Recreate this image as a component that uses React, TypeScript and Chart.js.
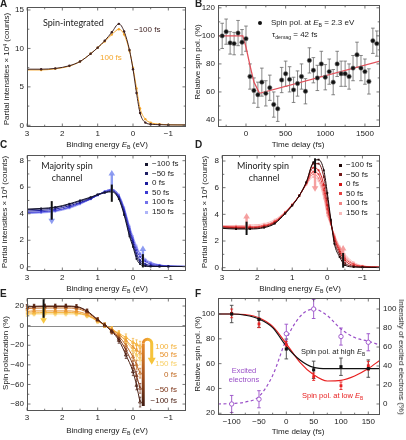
import React, { useEffect, useRef } from 'react';
import { Chart, registerables } from 'chart.js';

Chart.register(...registerables);

const W = 406;
const H = 440;
const SANS = "'Liberation Sans', Arial, Helvetica, sans-serif";
const HUM = "Lato, 'Open Sans', sans-serif";

// ---------------- shared ----------------
const BE_TICKS = [3, 2, 1, 0, -1];
const BE_MINOR = [2.5, 1.5, 0.5, -0.5];
const DELAY_LABELS = ['\u2212100 fs', '\u221250 fs', '0 fs', '50 fs', '100 fs', '150 fs'];
const BE_GRID = [3.0, 2.6, 2.2, 1.8, 1.5, 1.2, 1.0, 0.8, 0.6, 0.4, 0.25, 0.1, 0.0, -0.1, -0.2, -0.35, -0.5, -0.75, -1.0, -1.5];

// ---------------- A: spin-integrated ----------------
const A_M100 = [7.3, 7.3, 7.4, 7.75, 8.3, 9.3, 10.1, 11.0, 12.1, 13.2, 12.2, 9.8, 7.3, 4.2, 1.6, 0.35, 0.15, 0.08, 0.05, 0.05];
const A_P100 = [7.2, 7.2, 7.35, 7.7, 8.3, 9.3, 10.1, 10.9, 11.8, 12.5, 11.8, 9.7, 7.5, 4.8, 2.2, 0.8, 0.35, 0.15, 0.08, 0.05];
const A_COLORS = ['#3f2222', '#f4a62c'];
const A_YTICKS = [0, 5, 10, 15];

// ---------------- B: spin polarization vs delay ----------------
const B_DELAY = [-300, -250, -200, -150, -100, -50, 0, 50, 100, 150, 200, 250, 300, 350, 400, 450, 500, 550, 600, 650, 700, 750, 800, 850, 900, 950, 1000, 1050, 1100, 1150, 1200, 1250, 1300, 1350, 1400, 1450, 1500, 1550, 1600, 1650];
const B_POL = [100, 103, 95, 94.5, 102, 95.5, 98, 71, 61, 58, 67, 59, 63, 51, 48, 68.5, 73, 69, 61.5, 66, 71, 60.5, 82.5, 75.5, 70, 80, 70.5, 74.5, 67, 80, 73, 73, 71, 77, 86.5, 77, 74.5, 67.5, 96.5, 94.5];
const B_ERR = [9, 9, 8, 8, 9, 9, 9, 9, 9, 9, 10, 9, 9, 9, 9, 9, 9, 9, 9, 9, 9, 9, 9, 9, 9, 9, 9, 9, 9, 9, 9, 9, 9, 9, 9, 9, 9, 9, 9, 9];
const B_FIT_T = [-353, -40, 0, 50, 100, 170, 1690];
const B_FIT_P = [100, 100, 92, 79, 67, 59, 82];
const B_XTICKS = [0, 500, 1000, 1500];
const B_YTICKS = [40, 60, 80, 100, 120];

// ---------------- C: majority ----------------
const C_M100 = [4.35, 4.4, 4.5, 4.75, 5.0, 5.25, 5.45, 5.6, 5.65, 5.1, 3.9, 2.3, 1.5, 0.6, 0.2, 0.05, 0.02, 0.02, 0.02, 0.02];
const C_M50 = [4.3, 4.35, 4.45, 4.7, 4.95, 5.2, 5.45, 5.6, 5.7, 5.15, 4.0, 2.45, 1.65, 0.8, 0.35, 0.1, 0.04, 0.02, 0.02, 0.02];
const C_0 = [4.2, 4.25, 4.35, 4.6, 4.85, 5.15, 5.4, 5.6, 5.75, 5.25, 4.15, 2.65, 1.85, 1.0, 0.5, 0.2, 0.1, 0.05, 0.03, 0.02];
const C_50 = [4.1, 4.15, 4.25, 4.5, 4.8, 5.1, 5.4, 5.65, 5.8, 5.3, 4.3, 2.85, 2.0, 1.25, 0.75, 0.4, 0.2, 0.1, 0.05, 0.03];
const C_100 = [4.05, 4.1, 4.2, 4.45, 4.75, 5.1, 5.4, 5.7, 5.85, 5.4, 4.4, 3.0, 2.15, 1.45, 0.95, 0.5, 0.3, 0.13, 0.06, 0.03];
const C_150 = [4.0, 4.05, 4.15, 4.4, 4.7, 5.1, 5.4, 5.7, 5.85, 5.45, 4.5, 3.1, 2.3, 1.6, 1.05, 0.6, 0.35, 0.15, 0.07, 0.03];
const C_COLORS = ['#15152e', '#1e1e62', '#1c1c9c', '#3b3bd2', '#7272ea', '#aeb4f8'];
const C_MARK_E = [2.3, 0.6, -0.28];
const C_BAR_LO = [3.55, 4.9, -0.05];
const C_BAR_HI = [4.95, 6.2, 0.95];
const C_ARR_FROM = [4.4, 5.6, 0.1];
const C_ARR_TO = [3.2, 7.3, 1.6];
const CD_YTICKS = [0, 2, 4, 6, 8];

// ---------------- D: minority ----------------
const D_M100 = [2.95, 2.9, 2.9, 3.0, 3.3, 4.05, 4.65, 5.4, 6.4, 7.9, 8.1, 7.3, 5.6, 3.6, 1.8, 0.8, 0.2, 0.05, 0.03, 0.02];
const D_M50 = [3.0, 2.95, 2.95, 3.05, 3.35, 4.1, 4.7, 5.4, 6.4, 7.8, 7.8, 6.8, 5.2, 3.5, 2.0, 1.0, 0.35, 0.1, 0.05, 0.02];
const D_0 = [3.05, 3.0, 3.0, 3.1, 3.4, 4.1, 4.7, 5.4, 6.35, 7.5, 7.3, 6.2, 4.7, 3.4, 2.2, 1.2, 0.55, 0.15, 0.07, 0.03];
const D_50 = [3.1, 3.05, 3.05, 3.15, 3.45, 4.15, 4.7, 5.4, 6.3, 7.2, 7.0, 5.8, 4.4, 3.3, 2.3, 1.35, 0.7, 0.25, 0.1, 0.04];
const D_100 = [3.1, 3.1, 3.1, 3.2, 3.5, 4.15, 4.75, 5.4, 6.25, 7.0, 6.7, 5.5, 4.1, 3.25, 2.4, 1.5, 0.85, 0.3, 0.12, 0.05];
const D_150 = [3.15, 3.15, 3.2, 3.3, 3.6, 4.2, 4.75, 5.4, 6.2, 6.8, 6.5, 5.2, 3.9, 3.2, 2.5, 1.6, 1.0, 0.4, 0.15, 0.05];
const D_COLORS = ['#1e0808', '#721818', '#d21818', '#e64040', '#f08282', '#f8baba'];
const D_MARK_E = [2.3, 0.35, -0.45];
const D_BAR_LO = [2.45, 7.1, 0.0];
const D_BAR_HI = [3.45, 8.2, 1.1];
const D_ARR_FROM = [2.9, 7.8, 0.2];
const D_ARR_TO = [4.1, 5.7, 1.7];

// ---------------- E: spin polarization ----------------
const E_GRID = [3.0, 2.8, 2.5, 2.2, 1.9, 1.6, 1.3, 1.0, 0.8, 0.6, 0.4, 0.2, 0.0, -0.1, -0.2];
const E_M100 = [19.5, 19.8, 20, 20, 20, 19.5, 15, 6, 0.5, -6, -15, -30, -47, -61, -78];
const E_M50 = [19, 19.3, 19.5, 19.5, 19.5, 19, 14.5, 6, 0.5, -5.5, -13, -25, -40, -51, -64];
const E_0 = [17.5, 17.8, 18, 18, 18, 17.5, 13.5, 5.5, 0.5, -5, -11, -20, -32, -40, -48.5];
const E_50 = [14.5, 15, 15, 15, 15, 14.5, 11.5, 5, 0.5, -4, -9, -15, -22, -25, -28];
const E_100 = [13, 13, 13.5, 13.5, 13.5, 13, 10.5, 5, 0.5, -3.5, -8, -12, -17, -19, -21];
const E_150 = [11.5, 12, 12, 12, 12, 12, 10, 4.5, 0.5, -4, -9, -16, -25, -30, -35];
const E_ERR = [2, 2, 2, 2, 2, 2, 2, 2, 2, 2.5, 3, 3.5, 4, 4.5, 5];
const E_COLORS = ['#4a1e12', '#7c3418', '#c06a22', '#e8922c', '#f4b23a', '#f8d068'];
const E_YTICKS = [-80, -60, -40, -20, 0, 20];

// ---------------- F: comparison ----------------
const F_DELAY = [-100, -50, 0, 50, 100, 150];
const F_HIGH = [100, 95.7, 71.8, 55, 57.5, 56];
const F_HIGH_ERR = [7, 6.5, 8, 7, 7, 7];
const F_LOW = [100.5, 92, 75, 49.5, 42.2, 58.3];
const F_LOW_ERR = [3.5, 3, 3, 3, 3, 3.5];
const F_EXC = [0, 5, 74, 100, 71, 65];
const F_EXC_ERR = [9, 9, 10, 10, 9, 9];
const F_CURVE_T = [-125, -100, -75, -50, -25, 0, 25, 50, 75, 100, 125, 150, 172];
const F_HIGH_FIT = [100, 100, 99, 96, 89, 74, 63, 57, 56, 56, 56, 56, 56];
const F_LOW_FIT = [100, 100, 99.5, 97, 90, 76, 61, 51, 46, 46.5, 50, 56, 63];
const F_EXC_FIT = [0, 0.5, 2, 8, 30, 68, 92, 100, 93, 79, 70, 66, 62];
const F_XTICKS = [-100, -50, 0, 50, 100, 150];
const F_YTICKS = [20, 40, 60, 80, 100];
const F_Y2TICKS = [0, 20, 40, 60, 80, 100];
const F_BLACK = '#111111';
const F_RED = '#e82020';
const F_PURPLE = '#9a4fc8';

// ---------------- helpers ----------------
const YW = 24;
const XH = 14;

function fmt(v: number) {
  return String(v).replace('-', '\u2212');
}

function axis(spec: any, position: string, isX: boolean, size: number) {
  return {
    type: 'linear',
    position,
    min: spec.min,
    max: spec.max,
    reverse: !!spec.reverse,
    grid: { display: false, drawTicks: false },
    border: { display: false },
    ticks: {
      autoSkip: false,
      maxRotation: 0,
      padding: isX ? 2 : 3,
      color: '#222',
      font: { family: SANS, size: 8 },
      callback: (v: number) => fmt(v),
    },
    afterBuildTicks: (s: any) => {
      s.ticks = spec.ticks.map((v: number) => ({ value: v }));
    },
    afterFit: (s: any) => {
      if (isX) s.height = size;
      else s.width = size;
      s.paddingLeft = 0;
      s.paddingRight = 0;
      s.paddingTop = 0;
      s.paddingBottom = 0;
    },
  };
}

function opts(area: any, x: any, y: any, y2?: any) {
  const scales: any = { x: axis(x, 'bottom', true, XH), y: axis(y, 'left', false, YW) };
  if (y2) scales.y2 = axis(y2, 'right', false, YW);
  return {
    responsive: false,
    maintainAspectRatio: false,
    animation: false,
    devicePixelRatio: 1,
    events: [],
    layout: {
      padding: {
        left: area.l - YW,
        top: area.t,
        right: W - area.r - (y2 ? YW : 0),
        bottom: H - area.b - XH,
      },
    },
    plugins: { legend: { display: false }, tooltip: { enabled: false } },
    scales,
  };
}

function ser(xs: number[], ys: number[], color: string, extra: any = {}) {
  return {
    data: xs.map((x, i) => ({ x, y: ys[i] })),
    showLine: true,
    borderColor: color,
    backgroundColor: color,
    borderWidth: 1,
    pointRadius: 1.3,
    pointHoverRadius: 0,
    pointBorderWidth: 0,
    pointBackgroundColor: color,
    cubicInterpolationMode: 'monotone',
    ...extra,
  };
}

function drawArrow(ctx: any, X: number, Y0: number, Y1: number, color: string, lw: number, hl = 5.5, hw = 3.3) {
  const dir = Math.sign(Y1 - Y0) || 1;
  ctx.strokeStyle = color;
  ctx.fillStyle = color;
  ctx.lineWidth = lw;
  ctx.beginPath();
  ctx.moveTo(X, Y0);
  ctx.lineTo(X, Y1 - dir * hl * 0.8);
  ctx.stroke();
  ctx.beginPath();
  ctx.moveTo(X, Y1);
  ctx.lineTo(X - hw, Y1 - dir * hl);
  ctx.lineTo(X + hw, Y1 - dir * hl);
  ctx.closePath();
  ctx.fill();
}

function extras(ex: any) {
  return {
    id: 'extras',
    beforeDatasetsDraw(chart: any) {
      const ctx = chart.ctx;
      const a = chart.chartArea;
      const xs = chart.scales.x;
      const ys = chart.scales.y;
      ctx.save();
      if (ex.hline !== undefined) {
        const Y = Math.round(ys.getPixelForValue(ex.hline)) + 0.5;
        ctx.strokeStyle = '#8a8a8a';
        ctx.lineWidth = 1;
        ctx.beginPath();
        ctx.moveTo(a.left, Y);
        ctx.lineTo(a.right, Y);
        ctx.stroke();
      }
      for (const e of ex.err || []) {
        const sy = chart.scales[e.axis || 'y'];
        ctx.strokeStyle = e.color;
        ctx.lineWidth = e.lw;
        e.x.forEach((xv: number, i: number) => {
          const X = xs.getPixelForValue(xv);
          const lo = sy.getPixelForValue(e.y[i] - e.e[i]);
          const hi = sy.getPixelForValue(e.y[i] + e.e[i]);
          ctx.beginPath();
          ctx.moveTo(X, lo);
          ctx.lineTo(X, hi);
          ctx.moveTo(X - e.cap, lo);
          ctx.lineTo(X + e.cap, lo);
          ctx.moveTo(X - e.cap, hi);
          ctx.lineTo(X + e.cap, hi);
          ctx.stroke();
        });
      }
      ctx.restore();
    },
    afterDatasetsDraw(chart: any) {
      const ctx = chart.ctx;
      const a = chart.chartArea;
      const xs = chart.scales.x;
      const ys = chart.scales.y;
      ctx.save();
      if (ex.arrows) {
        const r = ex.arrows;
        r.x.forEach((xv: number, i: number) => {
          drawArrow(ctx, xs.getPixelForValue(xv), ys.getPixelForValue(r.from[i]), ys.getPixelForValue(r.to[i]), r.color, r.lw);
        });
      }
      if (ex.bars) {
        const b = ex.bars;
        ctx.strokeStyle = b.color;
        ctx.lineWidth = b.lw;
        b.x.forEach((xv: number, i: number) => {
          const X = xs.getPixelForValue(xv);
          ctx.beginPath();
          ctx.moveTo(X, ys.getPixelForValue(b.lo[i]));
          ctx.lineTo(X, ys.getPixelForValue(b.hi[i]));
          ctx.stroke();
        });
      }
      if (ex.big) {
        const b = ex.big;
        const X0 = xs.getPixelForValue(b.x0);
        const X1 = xs.getPixelForValue(b.x1);
        const rr = Math.abs(X1 - X0) / 2;
        const cx = (X0 + X1) / 2;
        const YB = ys.getPixelForValue(b.yb);
        const YT = ys.getPixelForValue(b.yt);
        const YE = ys.getPixelForValue(b.ye);
        const cy = YT + rr;
        ctx.lineWidth = 3;
        const g1 = ctx.createLinearGradient(0, YB, 0, cy);
        g1.addColorStop(0, '#3e1a10');
        g1.addColorStop(0.45, '#a04d1c');
        g1.addColorStop(1, '#e88a2a');
        ctx.strokeStyle = g1;
        ctx.beginPath();
        ctx.moveTo(X0, YB);
        ctx.lineTo(X0, cy);
        ctx.stroke();
        const g2 = ctx.createLinearGradient(X0, 0, X1, 0);
        g2.addColorStop(0, '#e88a2a');
        g2.addColorStop(1, '#f6c43a');
        ctx.strokeStyle = g2;
        ctx.beginPath();
        ctx.arc(cx, cy, rr, Math.PI, 2 * Math.PI);
        ctx.lineTo(X1, YE - 5);
        ctx.stroke();
        ctx.fillStyle = '#f6c43a';
        ctx.beginPath();
        ctx.moveTo(X1, YE);
        ctx.lineTo(X1 - 4, YE - 7);
        ctx.lineTo(X1 + 4, YE - 7);
        ctx.closePath();
        ctx.fill();
      }
      // frame
      const L = Math.round(a.left) + 0.5;
      const T = Math.round(a.top) + 0.5;
      const R = Math.round(a.right) - 0.5;
      const B = Math.round(a.bottom) - 0.5;
      ctx.strokeStyle = '#555';
      ctx.lineWidth = 1;
      ctx.strokeRect(L, T, R - L, B - T);
      ctx.lineWidth = 0.8;
      const tick = (vals: number[], len: number) => {
        for (const v of vals) {
          const X = xs.getPixelForValue(v);
          ctx.beginPath();
          ctx.moveTo(X, B);
          ctx.lineTo(X, B - len);
          ctx.moveTo(X, T);
          ctx.lineTo(X, T + len);
          ctx.stroke();
        }
      };
      tick(ex.xT || [], 3);
      tick(ex.xM || [], 1.8);
      const ytick = (vals: number[], len: number, sc: any, left: boolean, right: boolean) => {
        for (const v of vals) {
          const Y = sc.getPixelForValue(v);
          ctx.beginPath();
          if (left) {
            ctx.moveTo(L, Y);
            ctx.lineTo(L + len, Y);
          }
          if (right) {
            ctx.moveTo(R, Y);
            ctx.lineTo(R - len, Y);
          }
          ctx.stroke();
        }
      };
      const hasY2 = !!ex.y2T;
      ytick(ex.yT || [], 3, ys, true, !hasY2);
      ytick(ex.yM || [], 1.8, ys, true, !hasY2);
      if (hasY2) ytick(ex.y2T, 3, chart.scales.y2, false, true);
      ctx.restore();
    },
  };
}

// ---------------- panel builders ----------------
const BE_X = { min: -1.5, max: 3, reverse: true, ticks: BE_TICKS };

function buildA() {
  const area = { l: 27, t: 7, r: 186, b: 127 };
  return {
    type: 'scatter',
    data: {
      datasets: [
        ser(BE_GRID, A_M100, A_COLORS[0], { pointRadius: 1.2 }),
        ser(BE_GRID, A_P100, A_COLORS[1], { pointRadius: 1.2 }),
      ],
    },
    options: opts(area, BE_X, { min: -0.22, max: 15.39, ticks: A_YTICKS }),
    plugins: [extras({ xT: BE_TICKS, xM: BE_MINOR, yT: A_YTICKS, yM: [2.5, 7.5, 12.5] })],
  };
}

function buildB() {
  const area = { l: 218, t: 4, r: 380, b: 127 };
  return {
    type: 'scatter',
    data: {
      datasets: [
        {
          data: B_DELAY.map((x, i) => ({ x, y: B_POL[i] })),
          pointRadius: 2.2,
          pointBorderWidth: 0.6,
          pointBorderColor: '#777',
          pointBackgroundColor: '#111',
          showLine: false,
        },
        ser(B_FIT_T, B_FIT_P, '#e2525c', { pointRadius: 0, borderWidth: 1.3, cubicInterpolationMode: 'default', tension: 0 }),
      ],
    },
    options: opts(area, { min: -353, max: 1690, ticks: B_XTICKS }, { min: 35, max: 122.3, ticks: B_YTICKS }),
    plugins: [
      extras({
        xT: B_XTICKS,
        xM: [-250, 250, 750, 1250],
        yT: B_YTICKS,
        yM: [50, 70, 90, 110],
        err: [{ x: B_DELAY, y: B_POL, e: B_ERR, color: '#6a6a6a', lw: 0.8, cap: 1.8 }],
      }),
    ],
  };
}

function buildSpin(area: any, series: number[][], colors: string[], ymin: number, ymax: number, marks: any) {
  const ds = series.map((s, i) => ser(BE_GRID, s, colors[i], { pointStyle: 'rect', pointRadius: 1.3 }));
  return {
    type: 'scatter',
    data: { datasets: ds },
    options: opts(area, BE_X, { min: ymin, max: ymax, ticks: CD_YTICKS }),
    plugins: [
      extras({
        xT: BE_TICKS,
        xM: BE_MINOR,
        yT: CD_YTICKS,
        yM: [1, 3, 5, 7],
        arrows: { x: marks.x, from: marks.from, to: marks.to, color: marks.arrowColor, lw: 2.4 },
        bars: { x: marks.x, lo: marks.lo, hi: marks.hi, color: '#111', lw: 2 },
      }),
    ],
  };
}

function buildC() {
  return buildSpin({ l: 27, t: 155, r: 186, b: 271 }, [C_M100, C_M50, C_0, C_50, C_100, C_150], C_COLORS, -0.32, 8.43, {
    x: C_MARK_E, lo: C_BAR_LO, hi: C_BAR_HI, from: C_ARR_FROM, to: C_ARR_TO, arrowColor: 'rgba(130,145,240,0.9)',
  });
}

function buildD() {
  return buildSpin({ l: 222, t: 155, r: 380, b: 271 }, [D_M100, D_M50, D_0, D_50, D_100, D_150], D_COLORS, -0.25, 8.45, {
    x: D_MARK_E, lo: D_BAR_LO, hi: D_BAR_HI, from: D_ARR_FROM, to: D_ARR_TO, arrowColor: 'rgba(244,150,150,0.9)',
  });
}

function buildE() {
  const area = { l: 27, t: 298, r: 186, b: 411 };
  const series = [E_M100, E_M50, E_0, E_50, E_100, E_150];
  const ds = series.map((s, i) =>
    ser(E_GRID, s, E_COLORS[i], { pointStyle: 'triangle', pointRadius: 1.8, pointBorderWidth: 0.8, pointBorderColor: E_COLORS[i], pointBackgroundColor: 'rgba(255,255,255,0)' })
  );
  return {
    type: 'scatter',
    data: { datasets: ds },
    options: opts(area, BE_X, { min: -87.1, max: 28.2, ticks: E_YTICKS }),
    plugins: [
      extras({
        xT: BE_TICKS,
        xM: BE_MINOR,
        yT: E_YTICKS,
        yM: [-70, -50, -30, -10, 10],
        hline: 0,
        err: series.map((s, i) => ({ x: E_GRID, y: s, e: E_ERR, color: E_COLORS[i], lw: 0.7, cap: 1.2 })),
        bars: { x: [2.53], lo: [8], hi: [27], color: '#111', lw: 2 },
        arrows: { x: [2.53], from: [19], to: [2], color: 'rgba(246,196,58,0.95)', lw: 2.4 },
        big: { x0: -0.29, x1: -0.53, yb: -82, yt: -14, ye: -40 },
      }),
    ],
  };
}

function buildF() {
  const area = { l: 218, t: 298, r: 380, b: 415 };
  return {
    type: 'scatter',
    data: {
      datasets: [
        { data: F_DELAY.map((x, i) => ({ x, y: F_HIGH[i] })), pointStyle: 'rect', pointRadius: 2.2, pointBackgroundColor: F_BLACK, pointBorderWidth: 0, showLine: false },
        { data: F_DELAY.map((x, i) => ({ x, y: F_LOW[i] })), pointStyle: 'rect', pointRadius: 2.0, pointBackgroundColor: F_RED, pointBorderWidth: 0, showLine: false },
        { data: F_DELAY.map((x, i) => ({ x, y: F_EXC[i] })), yAxisID: 'y2', pointRadius: 2.2, pointBackgroundColor: '#fff', pointBorderColor: F_PURPLE, pointBorderWidth: 0.9, showLine: false },
        ser(F_CURVE_T, F_HIGH_FIT, F_BLACK, { pointRadius: 0, borderWidth: 1.2 }),
        ser(F_CURVE_T, F_LOW_FIT, F_RED, { pointRadius: 0, borderWidth: 1.2 }),
        ser(F_CURVE_T, F_EXC_FIT, F_PURPLE, { pointRadius: 0, borderWidth: 1.2, borderDash: [3, 2.5], yAxisID: 'y2' }),
      ],
    },
    options: opts(area, { min: -125, max: 171.4, ticks: F_XTICKS }, { min: 18.6, max: 112.9, ticks: F_YTICKS }, { min: -11.6, max: 111.6, ticks: F_Y2TICKS }),
    plugins: [
      extras({
        xT: F_XTICKS,
        xM: [-75, -25, 25, 75, 125],
        yT: F_YTICKS,
        y2T: F_Y2TICKS,
        err: [
          { x: F_DELAY, y: F_EXC, e: F_EXC_ERR, color: F_PURPLE, lw: 0.9, cap: 1.8, axis: 'y2' },
          { x: F_DELAY, y: F_HIGH, e: F_HIGH_ERR, color: '#444', lw: 0.9, cap: 1.8 },
          { x: F_DELAY, y: F_LOW, e: F_LOW_ERR, color: F_RED, lw: 0.9, cap: 1.5 },
        ],
      }),
    ],
  };
}

// ---------------- components ----------------
function ChartLayer({ build }: { build: () => any }) {
  const ref = useRef<HTMLCanvasElement>(null);
  useEffect(() => {
    const chart = new Chart(ref.current as any, build() as any);
    return () => chart.destroy();
  }, []);
  return <canvas ref={ref} width={W} height={H} style={{ position: 'absolute', left: 0, top: 0, width: W, height: H }} />;
}

function Txt(props: any) {
  const { x, y, size = 8, color = '#222', anchor = 'start', rot = 0, bold = false, family = SANS, children } = props;
  const tx = anchor === 'middle' ? '-50%' : anchor === 'end' ? '-100%' : '0';
  const transform = rot ? `translate(-50%,-50%) rotate(${rot}deg)` : `translate(${tx},-50%)`;
  return (
    <div
      style={{
        position: 'absolute',
        left: x,
        top: y,
        transform,
        fontSize: size,
        lineHeight: 1,
        color,
        fontFamily: family,
        fontWeight: bold ? 700 : 400,
        whiteSpace: 'nowrap',
      }}
    >
      {children}
    </div>
  );
}

const Sub = ({ children }: any) => (
  <span style={{ fontSize: '0.65em', verticalAlign: '-0.3em', lineHeight: 0 }}>{children}</span>
);

const EB = () => (
  <>
    <i>E</i>
    <Sub>B</Sub>
  </>
);

function Legend({ x, y0, colors }: { x: number; y0: number; colors: string[] }) {
  return (
    <>
      {DELAY_LABELS.map((lab, i) => (
        <React.Fragment key={lab}>
          <div style={{ position: 'absolute', left: x - 1.5, top: y0 + i * 9.6 - 1.5, width: 3, height: 3, background: colors[i] }} />
          <Txt x={x + 6} y={y0 + i * 9.6}>{lab}</Txt>
        </React.Fragment>
      ))}
    </>
  );
}

const PARTIAL = (
  <>
    Partial intensities × 10<sup style={{ fontSize: '0.65em', verticalAlign: '0.45em', lineHeight: 0 }}>4</sup> (counts)
  </>
);

export default function App() {
  return (
    <div style={{ position: 'absolute', left: 0, top: 0, width: W, height: H, background: '#fff', overflow: 'hidden', fontFamily: SANS }}>
      <ChartLayer build={buildA} />
      <ChartLayer build={buildB} />
      <ChartLayer build={buildC} />
      <ChartLayer build={buildD} />
      <ChartLayer build={buildE} />
      <ChartLayer build={buildF} />

      {/* panel letters */}
      <Txt x={0} y={4} size={10} bold>A</Txt>
      <Txt x={195} y={4} size={10} bold>B</Txt>
      <Txt x={0} y={145} size={10} bold>C</Txt>
      <Txt x={195} y={145} size={10} bold>D</Txt>
      <Txt x={0} y={294} size={10} bold>E</Txt>
      <Txt x={195} y={294} size={10} bold>F</Txt>

      {/* axis titles */}
      <Txt x={7} y={69} rot={-90}>{PARTIAL}</Txt>
      <Txt x={198} y={62} rot={-90}>Relative spin pol. (%)</Txt>
      <Txt x={5} y={212} rot={-90}>{PARTIAL}</Txt>
      <Txt x={205} y={212} rot={-90}>{PARTIAL}</Txt>
      <Txt x={6} y={353} rot={-90}>Spin polarization (%)</Txt>
      <Txt x={198} y={354} rot={-90}>Relative spin pol. (%)</Txt>
      <Txt x={401} y={357} rot={90}>Intensity of excited electrons (%)</Txt>

      <Txt x={107} y={145} anchor="middle">Binding energy <EB /> (eV)</Txt>
      <Txt x={298} y={145} anchor="middle">Time delay (fs)</Txt>
      <Txt x={107} y={289} anchor="middle">Binding energy <EB /> (eV)</Txt>
      <Txt x={300} y={289} anchor="middle">Binding energy <EB /> (eV)</Txt>
      <Txt x={107} y={431} anchor="middle">Binding energy <EB /> (eV)</Txt>
      <Txt x={298} y={432} anchor="middle">Time delay (fs)</Txt>

      {/* A annotations */}
      <Txt x={43} y={21.5} size={9} family={HUM}>Spin-integrated</Txt>
      <Txt x={134} y={30} color={A_COLORS[0]}>{DELAY_LABELS[0]}</Txt>
      <Txt x={100} y={58} color={A_COLORS[1]}>{DELAY_LABELS[4]}</Txt>

      {/* B legend */}
      <div style={{ position: 'absolute', left: 258, top: 21, width: 4, height: 4, borderRadius: 2, background: '#111' }} />
      <Txt x={271} y={23}>Spin pol. at <EB /> = 2.3 eV</Txt>
      <Txt x={272} y={35}>
        τ<Sub>demag</Sub> = 42 fs
      </Txt>

      {/* C annotations */}
      <Txt x={67} y={164.5} size={9} family={HUM} anchor="middle">Majority spin</Txt>
      <Txt x={67} y={176.5} size={9} family={HUM} anchor="middle">channel</Txt>
      <Legend x={146} y0={164} colors={C_COLORS} />

      {/* D annotations */}
      <Txt x={263} y={165} size={9} family={HUM} anchor="middle">Minority spin</Txt>
      <Txt x={264} y={176.5} size={9} family={HUM} anchor="middle">channel</Txt>
      <Legend x={340} y0={165} colors={D_COLORS} />

      {/* E labels */}
      <Txt x={177} y={346.5} anchor="end" color={E_COLORS[4]}>{DELAY_LABELS[4]}</Txt>
      <Txt x={177} y={355} anchor="end" color={E_COLORS[3]}>{DELAY_LABELS[3]}</Txt>
      <Txt x={177} y={363.5} anchor="end" color={E_COLORS[5]}>{DELAY_LABELS[5]}</Txt>
      <Txt x={177} y={375} anchor="end" color={E_COLORS[2]}>{DELAY_LABELS[2]}</Txt>
      <Txt x={177} y={390} anchor="end" color={E_COLORS[1]}>{DELAY_LABELS[1]}</Txt>
      <Txt x={177} y={401} anchor="end" color={E_COLORS[0]}>{DELAY_LABELS[0]}</Txt>

      {/* F labels */}
      <Txt x={301} y={352} size={7.5}>Spin pol. at high <EB /></Txt>
      <Txt x={302} y={396} size={7.5} color={F_RED}>Spin pol. at low <EB /></Txt>
      <Txt x={244} y={371} size={7.5} color={F_PURPLE} anchor="middle">Excited</Txt>
      <Txt x={244} y={380} size={7.5} color={F_PURPLE} anchor="middle">electrons</Txt>
    </div>
  );
}
